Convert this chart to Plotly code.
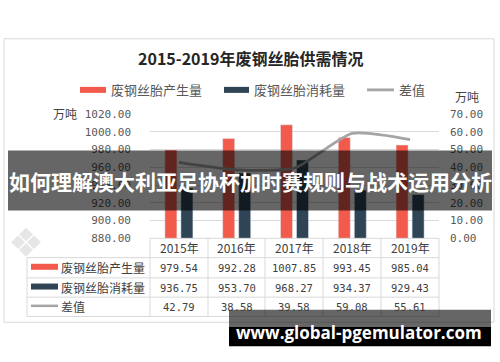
import plotly.graph_objects as go

W, H = 500, 362

years = ['2015年', '2016年', '2017年', '2018年', '2019年']
production = [979.54, 992.28, 1007.85, 993.45, 985.04]
consumption = [936.75, 953.70, 968.27, 934.37, 929.43]
difference = [42.79, 38.58, 39.58, 59.08, 55.61]
series_names = ['废钢丝胎产生量', '废钢丝胎消耗量', '差值']
title_text = '2015-2019年废钢丝胎供需情况'
banner_text = '如何理解澳大利亚足协杯加时赛规则与战术运用分析'
watermark_text = 'www.global-pgemulator.com'

RED = '#F25A4B'
DARK = '#2F4454'
GRAY = '#A5A5A5'
GRID = '#D9D9D9'
TXT = '#595959'
CJK = 'Noto Sans CJK SC'
MONO = 'DejaVu Sans Mono'

def X(px):
    return px / W

def Y(py):
    return 1 - py / H

PL, PR, PT, PB = 150, 439, 112, 241

fig = go.Figure()
fig.add_trace(go.Bar(x=years, y=production, name=series_names[0], marker_color=RED,
                     yaxis='y', xaxis='x'))
fig.add_trace(go.Bar(x=years, y=consumption, name=series_names[1], marker_color=DARK,
                     yaxis='y', xaxis='x'))
fig.add_trace(go.Scatter(x=years, y=difference, name=series_names[2], mode='lines',
                         line=dict(color=GRAY, width=2.8, shape='spline', smoothing=0.6),
                         yaxis='y2', xaxis='x'))

shapes = []
annotations = []

# chart border
shapes.append(dict(type='rect', xref='paper', yref='paper', x0=X(4), x1=X(494), y0=Y(34), y1=Y(328),
                   line=dict(color='#D9D9D9', width=1), fillcolor='rgba(0,0,0,0)', layer='below'))

# title
annotations.append(dict(xref='paper', yref='paper', x=X(250), y=Y(54), text='<b>' + title_text + '</b>',
                        showarrow=False, font=dict(family=CJK, size=16, color='#262626'),
                        xanchor='center', yanchor='middle'))

# legend
leg = [(80, 106, 109, RED, 6, series_names[0]),
       (224, 249, 252, DARK, 6, series_names[1]),
       (367, 394, 397, GRAY, 2.8, series_names[2])]
for x0, x1, tx, col, lw, name in leg:
    shapes.append(dict(type='line', xref='paper', yref='paper', x0=X(x0), x1=X(x1), y0=Y(87), y1=Y(87),
                       line=dict(color=col, width=lw)))
    annotations.append(dict(xref='paper', yref='paper', x=X(tx), y=Y(87), text=name, showarrow=False,
                            font=dict(family=CJK, size=13, color=TXT), xanchor='left', yanchor='middle'))

# axis unit labels
annotations.append(dict(xref='paper', yref='paper', x=X(65), y=Y(112), text='万吨', showarrow=False,
                        font=dict(family=CJK, size=12, color='#404040'), xanchor='center', yanchor='middle'))
annotations.append(dict(xref='paper', yref='paper', x=X(467), y=Y(94), text='万吨', showarrow=False,
                        font=dict(family=CJK, size=12, color='#404040'), xanchor='center', yanchor='middle'))

# data table
col_edges = [150, 208, 265, 323, 381, 439]
row_edges = [241, 261, 282, 302, 322]
TL = 27
tcol = '#D9D9D9'
# horizontal lines
shapes.append(dict(type='line', xref='paper', yref='paper', x0=X(150), x1=X(439), y0=Y(241), y1=Y(241),
                   line=dict(color=tcol, width=1)))
for ry in row_edges[1:]:
    shapes.append(dict(type='line', xref='paper', yref='paper', x0=X(TL), x1=X(439), y0=Y(ry), y1=Y(ry),
                       line=dict(color=tcol, width=1)))
for cx in col_edges:
    shapes.append(dict(type='line', xref='paper', yref='paper', x0=X(cx), x1=X(cx), y0=Y(241), y1=Y(322),
                       line=dict(color=tcol, width=1)))
shapes.append(dict(type='line', xref='paper', yref='paper', x0=X(TL), x1=X(TL), y0=Y(261), y1=Y(322),
                   line=dict(color=tcol, width=1)))

centers_x = [(col_edges[i] + col_edges[i + 1]) / 2 for i in range(5)]
centers_y = [(row_edges[i] + row_edges[i + 1]) / 2 for i in range(4)]
for i, yr in enumerate(years):
    annotations.append(dict(xref='paper', yref='paper', x=X(centers_x[i]), y=Y(centers_y[0]), text=yr,
                            showarrow=False, font=dict(family=CJK, size=12, color='#404040'),
                            xanchor='center', yanchor='middle'))
for r, vals in enumerate([production, consumption, difference]):
    for i, v in enumerate(vals):
        annotations.append(dict(xref='paper', yref='paper', x=X(centers_x[i]), y=Y(centers_y[r + 1]),
                                text=f'{v:.2f}', showarrow=False,
                                font=dict(family=MONO, size=10.5, color='#404040'),
                                xanchor='center', yanchor='middle'))
row_keys = [(RED, 6), (DARK, 6), (GRAY, 2.5)]
for r, (col, lw) in enumerate(row_keys):
    cy = centers_y[r + 1]
    shapes.append(dict(type='line', xref='paper', yref='paper', x0=X(31), x1=X(58), y0=Y(cy - 1), y1=Y(cy - 1),
                       line=dict(color=col, width=lw)))
    annotations.append(dict(xref='paper', yref='paper', x=X(59), y=Y(cy), text=series_names[r],
                            showarrow=False, font=dict(family=CJK, size=12, color='#404040'),
                            xanchor='left', yanchor='middle'))

# faint logo watermark (bottom-left)
for cx, cy in [(26, 237), (18, 245), (34, 245), (26, 253)]:
    d = 7
    path = (f'M {X(cx)} {Y(cy - d)} L {X(cx + d)} {Y(cy)} L {X(cx)} {Y(cy + d)} L {X(cx - d)} {Y(cy)} Z')
    shapes.append(dict(type='path', xref='paper', yref='paper', path=path,
                       fillcolor='#E6E6E6', line=dict(width=0), layer='below'))

# banner overlay
shapes.append(dict(type='rect', xref='paper', yref='paper', x0=X(8), x1=X(492), y0=Y(150), y1=Y(212),
                   fillcolor='rgba(0,0,0,0.6)', line=dict(width=0), layer='above'))
annotations.append(dict(xref='paper', yref='paper', x=X(250), y=Y(182), text='<b>' + banner_text + '</b>',
                        showarrow=False, font=dict(family=CJK, size=21, color='white'),
                        xanchor='center', yanchor='middle'))

# bottom watermark
shapes.append(dict(type='rect', xref='paper', yref='paper', x0=X(229), x1=X(491), y0=Y(315), y1=Y(333),
                   fillcolor='rgba(0,0,0,0.6)', line=dict(width=0), layer='above'))
shapes.append(dict(type='rect', xref='paper', yref='paper', x0=X(229), x1=X(491), y0=Y(333), y1=Y(353),
                   fillcolor='black', line=dict(width=0), layer='above'))
annotations.append(dict(xref='paper', yref='paper', x=X(359), y=Y(339), text='<b>' + watermark_text + '</b>',
                        showarrow=False, font=dict(family='Open Sans', size=17, color='white'),
                        xanchor='center', yanchor='middle'))

fig.update_layout(
    width=W, height=H, autosize=False,
    margin=dict(l=0, r=0, t=0, b=0),
    paper_bgcolor='white', plot_bgcolor='white',
    showlegend=False,
    barmode='group', bargap=0.446, bargroupgap=0.25,
    xaxis=dict(domain=[X(PL), X(PR)], showticklabels=False, showgrid=False, zeroline=False,
               showline=False, fixedrange=True),
    yaxis=dict(domain=[Y(PB), Y(PT)], range=[880, 1020], dtick=20, tick0=880, tickformat='.2f',
               showgrid=True, gridcolor=GRID, gridwidth=1, zeroline=False, showline=False,
               tickfont=dict(family=MONO, size=11, color=TXT), ticklabelstandoff=18),
    yaxis2=dict(overlaying='y', side='right', range=[0, 70], dtick=10, tick0=0, tickformat='.2f',
                showgrid=False, zeroline=False, showline=False,
                tickfont=dict(family=MONO, size=11, color=TXT), ticklabelstandoff=10),
    shapes=shapes,
    annotations=annotations,
)

fig.write_html('out.html')
